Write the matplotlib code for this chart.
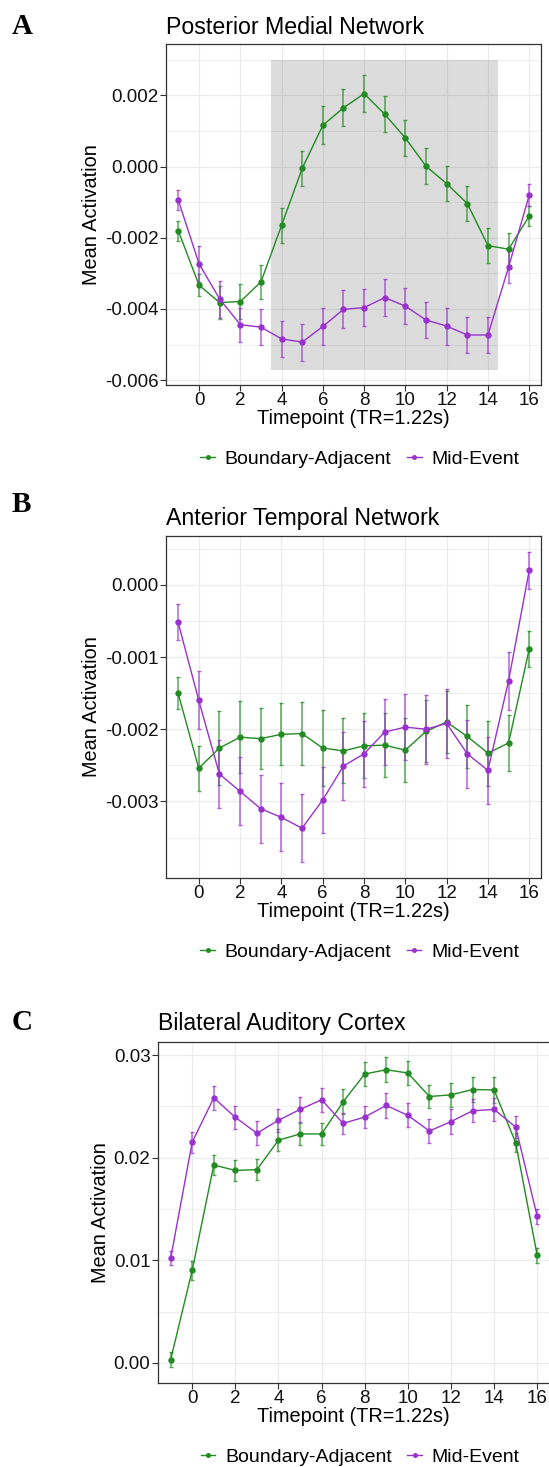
import matplotlib
matplotlib.use("Agg")
import matplotlib.pyplot as plt
from matplotlib.patches import Rectangle
from matplotlib.lines import Line2D

plt.rcParams['font.family'] = ['Liberation Sans', 'DejaVu Sans']

# ---------------- data ----------------
timepoints = list(range(-1, 17))

# Panel A: Posterior Medial Network
pm_boundary = [-0.00181, -0.00333, -0.00382, -0.00379, -0.00324, -0.00165, -0.00005, 0.00116,
               0.00165, 0.00205, 0.00147, 0.00080, 0.00001, -0.00048, -0.00104, -0.00222,
               -0.00232, -0.00139]
pm_boundary_se = [0.00027, 0.00030, 0.00046, 0.00049, 0.00048, 0.00049, 0.00050, 0.00053,
                  0.00052, 0.00051, 0.00051, 0.00050, 0.00050, 0.00050, 0.00050, 0.00049,
                  0.00045, 0.00027]
pm_mid = [-0.00095, -0.00273, -0.00372, -0.00444, -0.00451, -0.00484, -0.00493, -0.00449,
          -0.00401, -0.00396, -0.00368, -0.00392, -0.00431, -0.00448, -0.00473, -0.00473,
          -0.00282, -0.00080]
pm_mid_se = [0.00028, 0.00050, 0.00052, 0.00048, 0.00051, 0.00051, 0.00052, 0.00052,
             0.00053, 0.00051, 0.00052, 0.00051, 0.00051, 0.00052, 0.00051, 0.00050,
             0.00045, 0.00031]
pm_shade = (3.5, 14.5, -0.0057, 0.003)

# Panel B: Anterior Temporal Network
at_boundary = [-0.00150, -0.00254, -0.00226, -0.00211, -0.00213, -0.00207, -0.00206, -0.00226,
               -0.00230, -0.00223, -0.00222, -0.00229, -0.00203, -0.00190, -0.00210, -0.00233,
               -0.00219, -0.00089]
at_boundary_se = [0.00022, 0.00031, 0.00051, 0.00050, 0.00042, 0.00043, 0.00044, 0.00052,
                  0.00045, 0.00045, 0.00044, 0.00044, 0.00043, 0.00043, 0.00044, 0.00045,
                  0.00039, 0.00025]
at_mid = [-0.00052, -0.00160, -0.00262, -0.00286, -0.00310, -0.00322, -0.00337, -0.00298,
          -0.00251, -0.00234, -0.00204, -0.00197, -0.00200, -0.00192, -0.00234, -0.00257,
          -0.00133, 0.00020]
at_mid_se = [0.00025, 0.00040, 0.00047, 0.00047, 0.00047, 0.00047, 0.00047, 0.00046,
             0.00047, 0.00046, 0.00046, 0.00046, 0.00048, 0.00048, 0.00047, 0.00046,
             0.00040, 0.00026]

# Panel C: Bilateral Auditory Cortex
ac_boundary = [0.00032, 0.00903, 0.01929, 0.01877, 0.01884, 0.02171, 0.02232, 0.02232,
               0.02545, 0.02816, 0.02858, 0.02826, 0.02597, 0.02613, 0.02665, 0.02661,
               0.02148, 0.01048]
ac_boundary_se = [0.00073, 0.00090, 0.00100, 0.00100, 0.00100, 0.00106, 0.00107, 0.00110,
                  0.00121, 0.00114, 0.00122, 0.00118, 0.00115, 0.00119, 0.00121, 0.00124,
                  0.00093, 0.00073]
ac_mid = [0.01019, 0.02152, 0.02584, 0.02394, 0.02239, 0.02365, 0.02471, 0.02565,
          0.02335, 0.02397, 0.02510, 0.02413, 0.02261, 0.02352, 0.02458, 0.02471,
          0.02300, 0.01429]
ac_mid_se = [0.00068, 0.00103, 0.00114, 0.00110, 0.00116, 0.00111, 0.00118, 0.00116,
             0.00105, 0.00109, 0.00121, 0.00118, 0.00119, 0.00119, 0.00113, 0.00116,
             0.00103, 0.00074]

conditions = ["Boundary-Adjacent", "Mid-Event"]
colors = ["#228B22", "#9932CC"]
x_label = "Timepoint (TR=1.22s)"
y_label = "Mean Activation"
x_breaks = list(range(0, 17, 2))

panels = [
    dict(letter="A", title="Posterior Medial Network",
         series=[(pm_boundary, pm_boundary_se), (pm_mid, pm_mid_se)],
         shade=pm_shade, yticks=[-0.006, -0.004, -0.002, 0.000, 0.002],
         yminor=[-0.005, -0.003, -0.001, 0.001, 0.003], fmt="{:.3f}"),
    dict(letter="B", title="Anterior Temporal Network",
         series=[(at_boundary, at_boundary_se), (at_mid, at_mid_se)],
         shade=None, yticks=[-0.003, -0.002, -0.001, 0.000],
         yminor=[-0.0035, -0.0025, -0.0015, -0.0005, 0.0005], fmt="{:.3f}"),
    dict(letter="C", title="Bilateral Auditory Cortex",
         series=[(ac_boundary, ac_boundary_se), (ac_mid, ac_mid_se)],
         shade=None, yticks=[0.00, 0.01, 0.02, 0.03],
         yminor=[0.005, 0.015, 0.025], fmt="{:.2f}"),
]

# ---------------- layout (pixels) ----------------
W, H = 549, 1467
fig = plt.figure(figsize=(W / 100, H / 100), dpi=100)

# left, right, top, bottom of panel; title gap; extra lift of panel letter
boxes = [
    (166, 541, 44.3, 385, 10.5, 0),
    (165.7, 541, 536, 877.7, 10.5, 14),
    (157.7, 549.5, 1041.7, 1382.7, 11.7, 0),
]

for p, (l, r, t, b, tit_off, lab_lift) in zip(panels, boxes):
    ax = fig.add_axes([l / W, 1 - b / H, (r - l) / W, (b - t) / H])
    ax.set_axisbelow(True)

    # y limits with ggplot-style 5% expansion
    lows, highs = [], []
    for vals, se in p["series"]:
        lows.append(min(v - s for v, s in zip(vals, se)))
        highs.append(max(v + s for v, s in zip(vals, se)))
    lo, hi = min(lows), max(highs)
    if p["shade"] is not None:
        lo = min(lo, p["shade"][2])
        hi = max(hi, p["shade"][3])
    pad = (hi - lo) * 0.05
    ax.set_ylim(lo - pad, hi + pad)
    ax.set_xlim(-1.6, 16.57)

    # grid
    ax.set_yticks(p["yticks"])
    ax.set_yticks(p["yminor"], minor=True)
    ax.set_xticks(x_breaks)
    ax.grid(True, which="major", color="#EBEBEB", linewidth=0.9)
    ax.grid(True, which="minor", axis="y", color="#EBEBEB", linewidth=0.6)
    ax.tick_params(which="minor", length=0)

    if p["shade"] is not None:
        x0, x1, y0, y1 = p["shade"]
        ax.add_patch(Rectangle((x0, y0), x1 - x0, y1 - y0, facecolor="#7F7F7F",
                               alpha=0.27, edgecolor="none", zorder=1))

    for (vals, se), col in zip(p["series"], colors):
        ax.errorbar(timepoints, vals, yerr=se, fmt="none", ecolor=col, elinewidth=1.1,
                    capsize=1.2, capthick=1.0, alpha=0.75, zorder=3)
        ax.plot(timepoints, vals, color=col, linewidth=1.0, marker="o", markersize=4.6,
                markeredgewidth=0, zorder=4)

    ax.set_yticklabels([p["fmt"].format(v) for v in p["yticks"]])
    ax.tick_params(which="major", length=4.0, width=0.8, color="#333333",
                   labelsize=13.5, labelcolor="#111111", pad=1.2)
    for s in ax.spines.values():
        s.set_color("#333333")
        s.set_linewidth(0.9)

    ax.set_xlabel(x_label, fontsize=14.3, labelpad=0.0, color="black")
    ax.set_ylabel(y_label, fontsize=14.3, labelpad=3.0, color="black")

    handles = [Line2D([], [], color=c, marker="o", markersize=3.6, linewidth=1.0,
                      markeredgewidth=0) for c in colors]
    ax.legend(handles, conditions, loc="center", ncol=2, frameon=False,
              bbox_to_anchor=(0.517, -74 / (b - t)), fontsize=14,
              handlelength=0.75, handletextpad=0.5, columnspacing=0.8)

    fig.text(l / W, 1 - (t - tit_off) / H, p["title"], fontsize=16.7,
             va="baseline", ha="left", color="black")
    fig.text(12 / W, 1 - (t - tit_off - lab_lift) / H, p["letter"], fontsize=21,
             fontweight="bold", va="baseline", ha="left",
             family=["Liberation Serif", "DejaVu Serif"])

fig.savefig("out.png", dpi=100)
